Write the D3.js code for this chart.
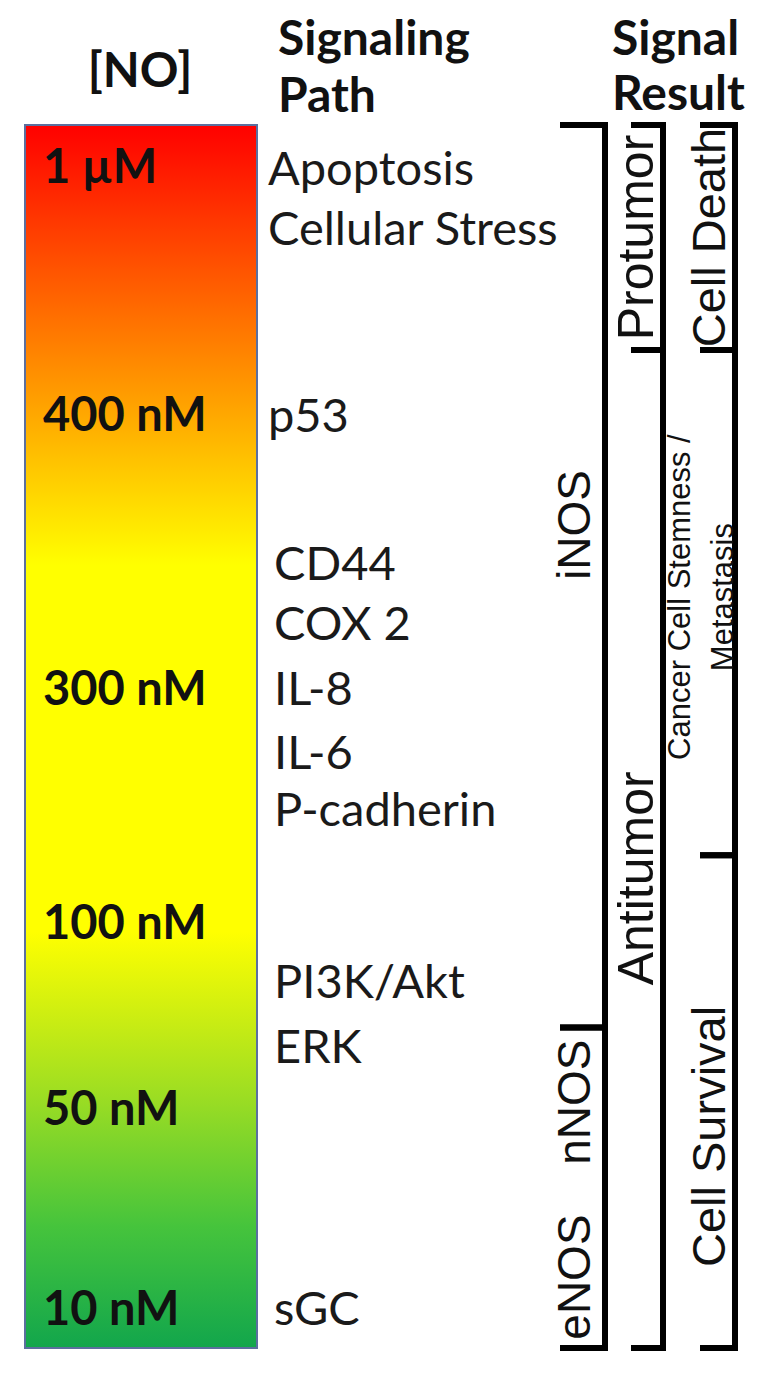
<!DOCTYPE html>
<html>
<head>
<meta charset="utf-8">
<script src="https://cdn.jsdelivr.net/npm/d3@7"></script>
<style>
  body { margin: 0; background: #fff; }
  svg { display: block; }
</style>
</head>
<body>
<svg></svg>
<script>
const width = 764
const height = 1374

// concentration ticks inside the bar (position = % down the bar)
const concLabels = ['1 µM', '400 nM', '300 nM', '100 nM', '50 nM', '10 nM']
const concPos = [3.35, 23.6, 46.0, 65.2, 80.4, 96.7]

// signaling pathways
const pathLabels = ['Apoptosis', 'Cellular Stress', 'p53', 'CD44', 'COX 2', 'IL-8', 'IL-6', 'P-cadherin', 'PI3K/Akt', 'ERK', 'sGC']
const pathPos = [3.5, 8.4, 23.7, 35.8, 40.7, 46.0, 51.3, 55.9, 70.0, 75.3, 96.7]

// bracket columns: spans and labels
const enzymeSpans = [[0, 73.8], [73.8, 100]]
const enzymeLabels = ['iNOS', 'nNOS', 'eNOS']
const enzymePos = [32.7, 79.9, 94.2]

const tumorSpans = [[0, 18.4], [18.4, 100]]
const tumorLabels = ['Protumor', 'Antitumor']
const tumorPos = [9.2, 61.6]

const resultSpans = [[0, 18.4], [18.4, 59.7], [59.7, 100]]
const resultLabels = [['Cell Death'], ['Cancer Cell Stemness /', 'Metastasis'], ['Cell Survival']]
const resultPos = [9.2, 38.6, 82.7]

const svg = d3.select('svg')
  .attr('width', width)
  .attr('height', height)
  .attr('viewBox', `0 0 ${width} ${height}`)

const bar = { x: 25, w: 232, top: 125, bottom: 1348 }
const y = d3.scaleLinear().domain([0, 100]).range([bar.top, bar.bottom])

// gradient red -> yellow -> green
const color = d3.scaleLinear()
  .domain([0, 36, 66, 80, 90, 100])
  .range(['#ff0000', '#ffff00', '#ffff00', '#98dc24', '#46c43c', '#12a64c'])

const grad = svg.append('defs').append('linearGradient')
  .attr('id', 'noGrad')
  .attr('x1', 0).attr('y1', 0).attr('x2', 0).attr('y2', 1)
grad.selectAll('stop')
  .data(color.domain())
  .join('stop')
  .attr('offset', d => d + '%')
  .attr('stop-color', d => color(d))

svg.append('rect')
  .attr('x', bar.x)
  .attr('y', y(0))
  .attr('width', bar.w)
  .attr('height', y(100) - y(0))
  .attr('fill', 'url(#noGrad)')
  .attr('stroke', '#5b6f9e')
  .attr('stroke-width', 2)

// headers
const head = svg.append('g')
  .style('font-family', 'Lato, "Open Sans", sans-serif')
  .style('font-weight', 700)
  .style('font-size', '48px')
  .attr('fill', '#111')
head.append('text').attr('x', 140).attr('y', 87).attr('text-anchor', 'middle').text('[NO]')
head.append('text').attr('x', 278).attr('y', 55).text('Signaling')
head.append('text').attr('x', 278).attr('y', 112).text('Path')
head.append('text').attr('x', 612).attr('y', 55).text('Signal')
head.append('text').attr('x', 612).attr('y', 110).text('Result')

// concentration labels
svg.append('g')
  .style('font-family', 'Lato, "Open Sans", sans-serif')
  .style('font-weight', 700)
  .style('font-size', '47px')
  .selectAll('text')
  .data(concLabels)
  .join('text')
  .attr('x', bar.x + 18)
  .attr('y', (d, i) => y(concPos[i]))
  .attr('dy', '0.36em')
  .attr('fill', '#111')
  .text(d => d)

// pathway labels
svg.append('g')
  .style('font-family', 'Lato, "Open Sans", sans-serif')
  .style('font-size', '47px')
  .selectAll('text')
  .data(pathLabels)
  .join('text')
  .attr('x', (d, i) => pathPos[i] < 30 ? 268 : 274)
  .attr('y', (d, i) => y(pathPos[i]))
  .attr('dy', '0.36em')
  .attr('fill', '#1a1a1a')
  .text(d => d)

// brackets
const cols = [
  { spans: enzymeSpans, x: 605, tick: 45 },
  { spans: tumorSpans, x: 663, tick: 32 },
  { spans: resultSpans, x: 735, tick: 35 }
]

const brackets = svg.append('g')
  .attr('fill', 'none')
  .attr('stroke', '#000')
  .attr('stroke-width', 6)
  .attr('stroke-linejoin', 'miter')

cols.forEach(c => {
  brackets.selectAll(null)
    .data(c.spans)
    .join('path')
    .attr('d', d => `M${c.x - c.tick},${y(d[0])}H${c.x}V${y(d[1])}H${c.x - c.tick}`)
})

// vertical labels
const vtext = svg.append('g')
  .style('font-family', '"Liberation Sans", Arial, sans-serif')
  .attr('fill', '#111')
  .attr('text-anchor', 'middle')

vtext.selectAll('.enz')
  .data(enzymeLabels)
  .join('text')
  .attr('class', 'enz')
  .style('font-size', '46px')
  .attr('transform', (d, i) => `translate(${cols[0].x - 15},${y(enzymePos[i])}) rotate(-90)`)
  .text(d => d)

vtext.selectAll('.tum')
  .data(tumorLabels)
  .join('text')
  .attr('class', 'tum')
  .style('font-size', '50px')
  .attr('transform', (d, i) => `translate(${cols[1].x - 10},${y(tumorPos[i])}) rotate(-90)`)
  .text(d => d)

resultLabels.forEach((lines, i) => {
  const small = lines.length > 1
  vtext.selectAll(null)
    .data(lines)
    .join('text')
    .style('font-size', small ? '31px' : '47px')
    .attr('transform', (d, j) => {
      const bx = small ? cols[2].x - 45 + j * 43 : cols[2].x - 10
      return `translate(${bx},${y(resultPos[i])}) rotate(-90)`
    })
    .text(d => d)
})
</script>
</body>
</html>
